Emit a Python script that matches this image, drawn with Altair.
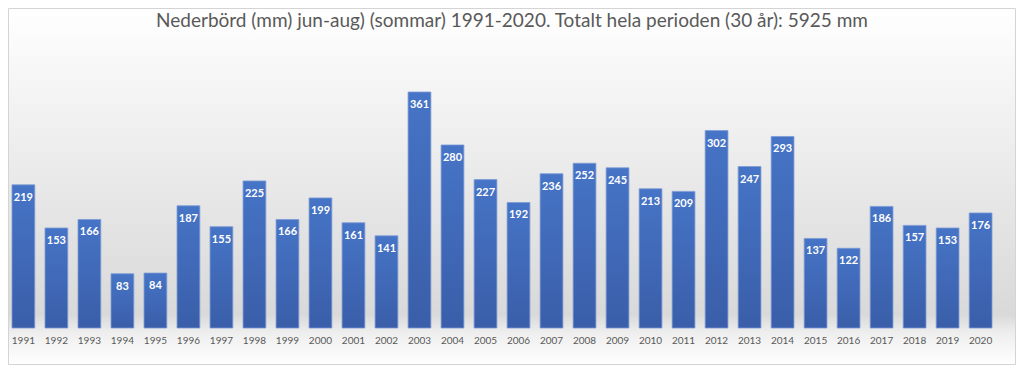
import altair as alt
import pandas as pd

years = [str(y) for y in range(1991, 2021)]
values = [219, 153, 166, 83, 84, 187, 155, 225, 166, 199,
          161, 141, 361, 280, 227, 192, 236, 252, 245, 213,
          209, 302, 247, 293, 137, 122, 186, 157, 153, 176]
title_text = "Nederbörd (mm) jun-aug) (sommar)  1991-2020.  Totalt hela perioden (30 år): 5925 mm"

df = pd.DataFrame({"year": years, "mm": values})

PAD_LEFT = 4
W, H = 980, 268
TOTAL_W, TOTAL_H = 1008, 357
PAD_TOP = 52
FONT = "Lato"

one = alt.Data(values=[{"a": 1}])

bg = alt.Chart(one).mark_rect(
    fill=alt.LinearGradient(
        gradient="linear", x1=0, y1=0, x2=0, y2=1,
        stops=[
            alt.GradientStop(color="#ffffff", offset=0),
            alt.GradientStop(color="#f8f8f8", offset=0.15),
            alt.GradientStop(color="#e6e6e6", offset=0.55),
            alt.GradientStop(color="#d9d9d9", offset=0.86),
            alt.GradientStop(color="#eeeeee", offset=0.91),
            alt.GradientStop(color="#ffffff", offset=1),
        ],
    ),
    stroke="#d4d4d4", strokeWidth=1,
).encode(
    x=alt.value(-PAD_LEFT + 0.5), x2=alt.value(TOTAL_W - PAD_LEFT - 0.5),
    y=alt.value(-PAD_TOP + 0.5), y2=alt.value(TOTAL_H - PAD_TOP - 0.5),
)

title = alt.Chart(one).mark_text(
    text=title_text, fontSize=19, font=FONT, color="#595959",
    align="center", baseline="middle",
).encode(x=alt.value(504 - PAD_LEFT), y=alt.value(-39))

base = alt.Chart(df).encode(
    x=alt.X("year:N", sort=years,
            scale=alt.Scale(paddingInner=0.31, paddingOuter=0.0),
            axis=alt.Axis(title=None, labelAngle=0, ticks=False, domain=False,
                          labelPadding=7, labelFontSize=10, labelColor="#595959",
                          labelFont=FONT, zindex=1)),
    y=alt.Y("mm:Q", scale=alt.Scale(domain=[0, 410], nice=False), axis=None),
)

bars = base.mark_bar(
    fill=alt.LinearGradient(
        gradient="linear", x1=0, y1=0, x2=0, y2=1,
        stops=[
            alt.GradientStop(color="#4674c6", offset=0),
            alt.GradientStop(color="#3a5ea9", offset=1),
        ],
    ),
    stroke="#7c9bd6", strokeWidth=0.8,
)

labels = base.mark_text(
    baseline="middle", dy=13, color="white", fontWeight="bold",
    fontSize=11, font=FONT,
).encode(text="mm:Q")

chart = alt.layer(bg, title, bars, labels).properties(
    width=W, height=H,
    autosize=alt.AutoSizeParams(type="none"),
    padding={"left": PAD_LEFT, "top": PAD_TOP, "right": TOTAL_W - W - PAD_LEFT,
             "bottom": TOTAL_H - PAD_TOP - H},
).configure_view(stroke=None)

chart.save("out.html", embed_options={"renderer": "svg", "actions": False})
